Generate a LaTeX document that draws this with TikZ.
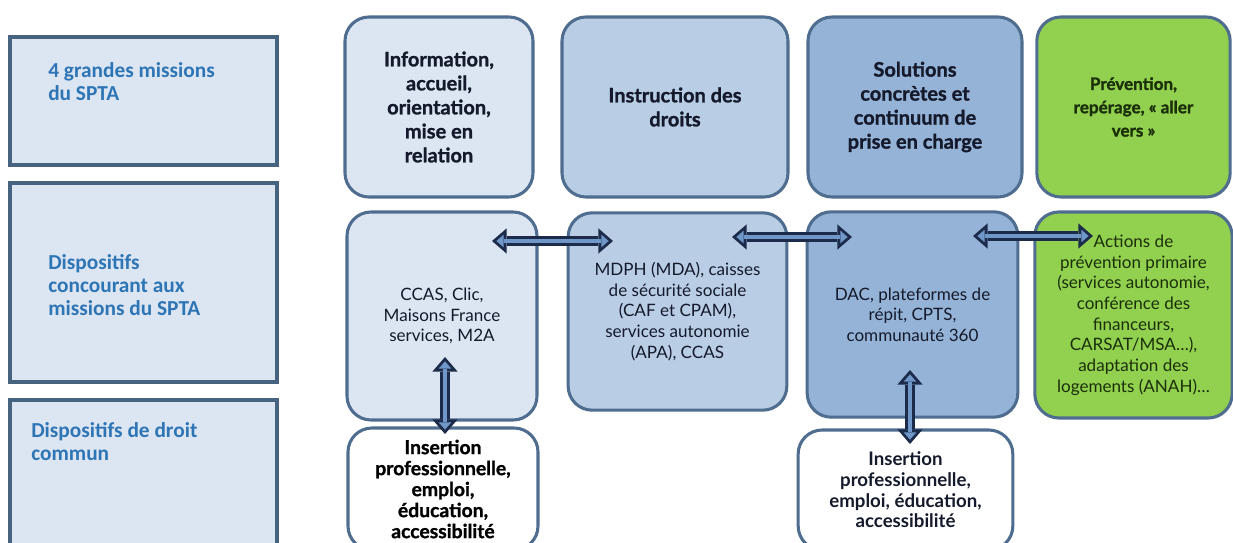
\documentclass[tikz,border=0pt]{standalone}
\usepackage{fontspec}
\setmainfont{Lato}
\newfontfamily\labelfont{Carlito}
\newfontfamily\heavyfont{Lato}[BoldFeatures={FakeBold=1.2}]
\usetikzlibrary{positioning,arrows.meta}

\definecolor{paleblue}{HTML}{DCE6F2}
\definecolor{midblue}{HTML}{B9CDE5}
\definecolor{deepblue}{HTML}{95B3D7}
\definecolor{leafgreen}{HTML}{92D050}
\definecolor{edgeblue}{HTML}{4F6D8F}
\definecolor{sideedge}{HTML}{46637F}
\definecolor{titleblue}{HTML}{2E75B6}
\definecolor{arrownavy}{HTML}{1C2B4A}
\definecolor{arrowfill}{HTML}{6F98C8}
\definecolor{inkdark}{HTML}{141A2B}
\definecolor{inkgreen}{HTML}{1B3009}

\begin{document}
\begin{tikzpicture}[x=0.75pt,y=-0.75pt,
  rowbox/.style={draw=edgeblue,line width=2.3pt,rounded corners=18pt,align=center,inner sep=0pt},
  sidebox/.style={draw=sideedge,line width=3pt,fill=paleblue,minimum width=200pt},
  sidetext/.style={font=\labelfont\bfseries\fontsize{16}{17.5}\selectfont,text=titleblue,align=left,anchor=west,inner sep=0pt},
  missiontext/.style={font=\heavyfont\bfseries\fontsize{15}{18}\selectfont,text=inkdark},
  devicetext/.style={font=\fontsize{12.8}{15.5}\selectfont,text=inkdark},
  blockarrow/.style={draw=arrownavy,line width=7.5pt,
    {Triangle[width=19pt,length=11pt,line width=0pt]}-{Triangle[width=19pt,length=11pt,line width=0pt]},
    postaction={draw=arrowfill,line width=3.2pt,shorten <=3.3pt,shorten >=3.3pt,
      {Triangle[width=9.6pt,length=5.5pt,line width=0pt]}-{Triangle[width=9.6pt,length=5.5pt,line width=0pt]}}}]
  \useasboundingbox (0,0) rectangle (1233,543);
  \clip (0,0) rectangle (1233,543);
  \fill[white] (0,0) rectangle (1233,543);

  % left column
  \node[sidebox,minimum height=96pt] (missions) at (143.5,101) {};
  \node[sidebox,minimum height=149pt] (concours) at (143.5,282.5) {};
  \node[sidebox,minimum height=120pt] (droitcommun) at (143.5,480) {};
  \node[sidetext] (missionsLbl) at (48,81.5) {4 grandes missions\\du SPTA};
  \node[sidetext] (concoursLbl) at (48,285) {Dispositifs\\concourant aux\\missions du SPTA};
  \node[sidetext] (droitcommunLbl) at (31,441.5) {Dispositifs de droit\\commun};

  % missions
  \node[rowbox,fill=paleblue,minimum width=141pt,minimum height=135pt,missiontext] (info) at (439,107) {Information,\\accueil,\\orientation,\\mise en\\relation};
  \node[rowbox,fill=midblue,minimum width=169.5pt,minimum height=135pt,missiontext] (droits) at (675,107) {Instruction des\\droits};
  \node[rowbox,fill=deepblue,minimum width=160.5pt,minimum height=135pt,missiontext] (solutions) at (915,107) {Solutions\\concrètes et\\continuum de\\prise en charge};
  \node[rowbox,fill=leafgreen,minimum width=145pt,minimum height=135pt,font=\heavyfont\bfseries\fontsize{12.8}{17.5}\selectfont,text=inkgreen] (prevention) at (1133.5,107) {Prévention,\\repérage, « aller\\vers »};

  % dispositifs
  \node[rowbox,fill=paleblue,minimum width=142.5pt,minimum height=156pt,devicetext] (ccas) at (442,316) {CCAS, Clic,\\Maisons France\\services, M2A};
  \node[rowbox,fill=midblue,minimum width=164pt,minimum height=148pt,devicetext] (mdph) at (677.5,311.5) {MDPH (MDA), caisses\\de sécurité sociale\\(CAF et CPAM),\\services autonomie\\(APA), CCAS};
  \node[rowbox,fill=deepblue,minimum width=158pt,minimum height=154pt,devicetext] (dac) at (912.5,314.5) {DAC, plateformes de\\répit, CPTS,\\communauté 360};
  \node[rowbox,fill=leafgreen,minimum width=148pt,minimum height=154.5pt,devicetext,text=inkgreen] (actions) at (1133.5,315) {Actions de\\prévention primaire\\(services autonomie,\\conférence des\\financeurs,\\CARSAT/MSA…),\\adaptation des\\logements (ANAH)…};

  % droit commun
  \node[rowbox,fill=white,minimum width=142.5pt,minimum height=91.5pt,font=\heavyfont\bfseries\fontsize{14.5}{15.75}\selectfont,text=black] (insertA) at (443,489) {Insertion\\professionnelle,\\emploi,\\éducation,\\accessibilité};
  \node[rowbox,fill=white,minimum width=161pt,minimum height=90pt,font=\bfseries\fontsize{14}{15.5}\selectfont,text=inkdark] (insertC) at (905.5,490) {Insertion\\professionnelle,\\emploi, éducation,\\accessibilité};

  % arrows
  \coordinate (hA) at (492,241);
  \coordinate (hB) at (613,241);
  \coordinate (hC) at (732,237);
  \coordinate (hD) at (852,237);
  \coordinate (hE) at (973,236);
  \coordinate (hF) at (1093,236);
  \coordinate (vA) at (445,357);
  \coordinate (vB) at (445,434);
  \coordinate (vC) at (910,370);
  \coordinate (vD) at (910,444);
  \draw[blockarrow] (hA) -- (hB);
  \draw[blockarrow] (hC) -- (hD);
  \draw[blockarrow] (hE) -- (hF);
  \draw[blockarrow] (vA) -- (vB);
  \draw[blockarrow] (vC) -- (vD);
\end{tikzpicture}
\end{document}
